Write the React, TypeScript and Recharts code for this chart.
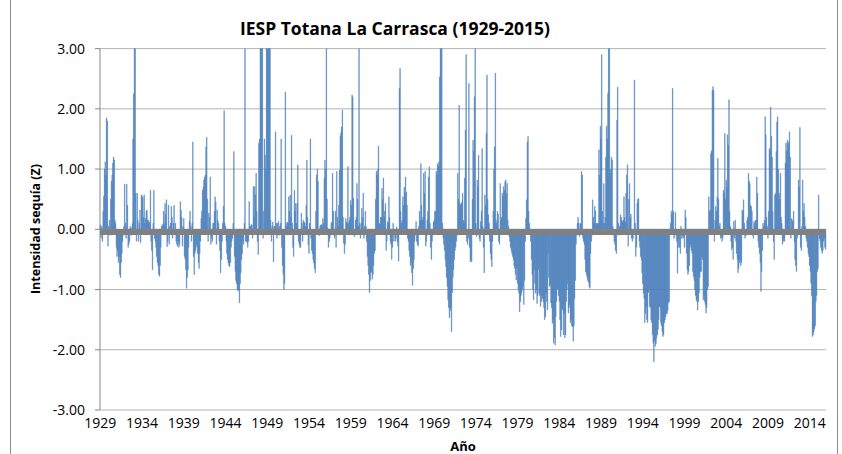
import React from "react";
import { Bar, BarChart, CartesianGrid, ReferenceLine, XAxis, YAxis } from "recharts";

// IESP monthly values (Z), Jan 1929 - Dec 2015, one row per year
const firstYear = 1929;

const z1929_1939 = [
  0.07, -0.15, 0.05, -0.2, 0.3, 0.55, 1.0, 1.12, 0.9, 1.85, 1.8, -0.28,
  0.05, 0.15, -0.1, 0.5, 0.8, 0.9, 1.1, 1.2, 1.15, 0.15, 0.1, -0.3,
  -0.45, -0.35, -0.55, -0.45, -0.75, -0.8, -0.55, -0.4, -0.2, -0.1, 0.05, 0.75,
  0.1, -0.15, 0.75, 0.4, -0.3, -0.25, -0.2, 0.05, 0.02, -0.1, 0.1, 1.5,
  2.25, 3.3, 3.2, 0.6, -0.2, 0.6, 0.15, -0.2, 0.1, 0.32, -0.22, 0.57,
  0.55, 0.53, 0.2, 0.57, 0.1, 0.18, 0.3, 0.32, 0.15, 0.15, 0.1, 0.12,
  0.65, -0.2, -0.35, -0.67, 0.1, 0.65, -0.15, -0.2, -0.3, -0.45, -0.55, -0.6,
  -0.75, -0.78, -0.6, -0.3, 0.05, 0.08, 0.05, 0.3, 0.1, 0.43, 0.25, 0.49,
  -0.29, -0.2, 0.4, -0.25, 0.05, 0.1, 0.38, 0.2, -0.15, 0.1, 0.4, -0.05,
  0.1, -0.2, -0.25, -0.28, -0.2, -0.3, -0.25, 0.46, 0.32, 0.2, -0.28, 0.05,
  0.18, -0.45, -0.5, -0.67, -0.98, -0.8, -0.67, -0.3, 0.13, 0.3, 0.05, -0.2,
];

const z1940_1949 = [
  0.1, 1.45, -0.45, -0.75, -0.4, -0.35, -0.25, -0.3, -0.4, -0.55, -0.65, -0.4,
  -0.2, 0.18, 0.3, 0.65, 0.7, 0.82, 0.87, 0.9, 1.37, 1.53, 0.5, -0.2,
  0.27, 0.2, 0.87, -0.25, -0.15, -0.2, 0.1, 0.1, 0.3, 0.54, 0.45, -0.25,
  0.32, 0.15, 0.1, -0.2, -0.35, -0.72, -0.5, -0.2, 0.1, 0.38, 1.97, 0.1,
  0.05, -0.2, -0.4, -0.5, -0.56, -0.6, -0.62, -0.55, -0.3, -0.2, -0.15, 0.1,
  1.29, -0.45, -0.7, -0.85, -0.9, -1.0, -1.02, -1.0, -1.22, -0.9, -0.72, -0.5,
  -0.4, -0.2, -0.25, 0.1, 3.2, -0.2, -0.2, -0.22, -0.3, -0.2, 0.46, 0.05,
  0.05, 0.08, 0.07, -0.15, 0.71, 0.2, 0.71, 0.57, 0.93, 0.3, -0.2, -0.42,
  1.43, 1.5, 3.1, 3.3, 3.4, 3.2, -0.15, 0.3, 1.5, 1.23, 1.0, 3.2,
  3.3, 3.5, 3.3, 3.6, 3.1, 0.15, -0.2, 0.05, 0.12, -0.54, 0.05, 0.05,
];

const z1950_1959 = [
  1.62, 0.1, -0.15, 0.1, 0.13, -0.1, 0.05, 0.1, 1.5, -0.3, -0.6, -0.75,
  -1.0, -0.9, 2.28, 0.1, 0.05, 0.12, 0.1, 0.54, 0.3, 0.57, 0.2, 1.56,
  0.1, -0.3, -0.45, 0.65, 0.3, 0.43, 0.1, 0.43, 1.07, -0.2, -0.25, -0.3,
  -0.3, 0.27, 0.1, -0.2, 0.15, 0.12, 0.1, 0.05, 0.4, 1.15, 0.2, -0.26,
  -0.4, 0.1, 1.5, -0.15, -0.35, -0.4, -0.5, -0.56, -0.65, -0.72, 0.3, 0.9,
  1.0, 0.8, -0.1, -0.1, 0.05, 0.07, 0.08, 0.05, 0.18, 0.1, 0.85, 1.15,
  1.0, 3.2, 0.5, 0.02, -0.3, -0.2, -0.15, -0.1, 0.1, 0.12, 0.93, 0.3,
  -0.1, -0.15, 0.3, -0.3, 0.96, 0.2, 0.05, 0.4, 0.98, 1.54, 1.6, 1.7,
  1.98, 0.2, -0.23, -0.4, -0.25, 0.18, 0.12, 0.1, 1.04, 0.1, 0.15, 0.2,
  0.48, 0.4, 2.23, 2.2, 0.51, -0.12, -0.1, 0.15, 0.2, 0.76, 0.5, 0.05,
];

const z1960_1969 = [
  3.2, 0.1, -0.15, 0.1, 0.35, 0.2, 0.6, -0.15, 0.05, 0.3, 0.05, -0.2,
  -0.45, -0.6, -0.75, -1.05, -0.85, -0.72, -0.7, -0.83, -0.75, -0.6, -0.4, -0.35,
  0.5, 0.96, 0.9, 1.0, 1.38, 0.1, 0.08, 0.2, 0.2, 0.68, 0.5, 0.85,
  0.2, 0.3, 0.43, -0.35, -0.2, 0.13, 0.1, 0.54, 0.2, -0.2, -0.25, -0.5,
  -0.3, 0.1, -0.2, -0.1, -0.2, -0.15, 0.04, -0.2, -0.28, -0.53, 2.34, 2.67,
  0.3, 0.1, 0.15, 0.54, 0.4, 0.7, 0.6, 0.87, 0.62, 0.4, -0.15, -0.2,
  -0.35, -0.45, -0.6, -0.55, -0.72, -0.93, -0.65, -0.5, -0.2, -0.1, 0.13, -0.2,
  -0.25, -0.28, 0.05, 0.3, 0.15, 1.09, 0.4, 0.15, 0.2, 0.93, 0.6, 0.96,
  -0.28, -0.2, 0.15, 0.3, 0.87, 1.04, 0.1, -0.3, -0.5, -0.2, -0.1, 0.12,
  0.15, 0.3, 0.3, 0.96, 0.9, 1.09, 1.05, 1.12, 2.53, 3.1, 3.3, 3.4,
];

const z1970_1979 = [
  0.1, -0.15, -0.25, -0.35, -0.5, -0.62, -0.8, -0.95, -1.17, -1.3, -1.47, -1.35,
  -1.3, -1.7, -1.05, -0.8, -0.67, -0.5, -0.35, -0.3, -0.2, -0.1, 0.93, 0.5,
  2.06, 0.43, 0.4, 0.43, 0.45, 0.6, 0.15, 0.1, 0.85, 1.65, 2.9, -0.2,
  -0.25, -0.15, 2.42, -0.3, -0.54, -0.5, -0.54, 0.5, 1.48, 1.3, 2.2, 3.2,
  0.1, -0.12, 0.82, 0.7, 1.23, -0.15, -0.2, 0.13, 0.3, 1.34, 0.05, -0.3,
  -0.72, 0.57, 0.4, 1.59, 2.56, 0.5, 0.24, 0.1, -0.2, -0.4, -0.5, -0.62,
  -0.2, 0.3, 1.0, 1.37, 2.59, 0.15, 0.1, 0.3, 0.25, -0.2, -0.25, 0.76,
  0.15, 0.2, 0.6, 0.55, 0.71, 0.65, 0.79, 0.82, 0.6, 0.76, 0.15, 0.05,
  -0.12, -0.2, -0.3, -0.35, -0.4, -0.45, -0.5, -0.6, -0.65, -0.75, -0.84, -0.65,
  -0.9, -1.0, -1.06, -1.37, -1.2, -1.1, -1.05, -1.0, -0.95, -1.25, -0.85, -0.2,
];

const z1980_1989 = [
  0.18, 0.49, 1.45, 1.54, 0.3, 0.1, -0.1, -0.2, -0.5, -0.75, -1.0, -1.17,
  -0.67, -0.9, -1.06, -1.0, -1.23, -1.1, -0.67, -1.06, -1.1, -1.28, -1.2, -1.1,
  -1.15, -1.2, -1.3, -1.5, -1.45, -1.06, -1.2, -1.34, -0.4, -0.8, -0.95, -0.92,
  -1.22, -1.3, -1.56, -1.5, -1.89, -1.8, -1.92, -1.45, -1.2, -0.98, -1.0, -1.1,
  -1.2, -1.5, -1.78, -1.67, -1.3, -1.34, -1.75, -1.4, -1.8, -1.75, -1.2, -1.0,
  -0.9, -1.39, -1.3, -1.25, -1.55, -1.5, -1.6, -1.62, -1.86, -1.6, -1.15, -0.85,
  -0.25, -0.1, 0.1, 0.2, 0.1, -0.12, 0.1, 0.08, 0.96, 0.9, -0.15, -0.2,
  -0.25, -0.5, -0.7, -0.75, -0.8, -0.85, -0.88, -0.95, -0.98, -0.4, -0.2, -0.1,
  0.49, 0.2, 0.1, 0.38, 0.3, 0.1, 0.08, 0.1, 0.1, 1.32, 0.9, 1.71,
  1.5, 2.9, 0.3, 0.1, 0.76, 0.1, 0.2, 1.2, 1.71, 1.5, 2.26, 3.2,
];

const z1990_1999 = [
  3.1, 0.93, 1.0, 1.2, 1.15, 0.05, -0.1, -0.2, -0.25, -0.35, -0.4, 1.81,
  2.36, 0.1, -0.1, 0.05, 0.24, 0.2, 0.15, 0.12, 0.15, 0.54, 0.2, 0.12,
  0.6, 0.9, 1.07, -0.28, 0.5, 0.76, 0.2, 0.25, -0.15, -0.2, -0.15, -0.05,
  2.48, 0.1, -0.45, -0.3, 0.43, 0.5, 0.51, -0.2, -0.3, -0.45, -0.5, -0.72,
  -0.9, -1.06, -1.15, -1.55, -1.4, -1.28, -1.5, -1.55, -1.05, -1.0, -1.28, -1.3,
  -1.5, -1.55, -1.75, -1.89, -2.2, -1.85, -1.94, -1.9, -1.8, -1.75, -1.66, -1.5,
  -1.28, -1.3, -1.55, -1.6, -1.7, -1.78, -1.75, -1.55, -1.5, -1.45, -1.4, -1.4,
  -1.35, -1.22, -1.2, -0.1, 0.1, 0.3, 0.25, 2.34, 0.3, -0.15, -0.1, 0.28,
  -0.1, -0.2, -0.73, -0.3, -0.15, -0.3, -0.4, 0.05, -0.15, -0.1, -0.15, -0.12,
  -0.3, 0.32, 0.2, -0.4, -0.67, -0.75, -0.7, -0.6, -0.3, -0.25, -0.35, -0.4,
];

const z2000_2009 = [
  -0.7, -0.78, -0.85, -1.0, -1.1, -1.17, -1.2, -1.34, -1.2, -1.05, -0.8, -0.7,
  -0.7, -0.45, -0.5, -1.17, -1.1, -1.2, -1.25, -1.39, -1.3, -1.0, -0.95, 0.54,
  0.3, 0.32, 1.26, 1.3, 2.31, 2.37, 2.3, -0.2, 0.15, 0.38, 0.3, 0.54,
  1.18, 0.5, 0.05, 0.1, -0.15, -0.12, -0.2, -0.15, 0.65, 0.6, 1.59, 0.5,
  0.82, 0.7, 1.57, 1.4, 2.15, 0.3, 0.05, -0.2, -0.34, -0.3, -0.5, 0.13,
  -0.15, 0.15, -0.2, -0.4, -0.5, -0.72, -0.65, -0.55, -0.5, -0.6, -0.55, 0.32,
  0.3, 0.49, 0.1, -0.15, -0.1, -0.1, 0.15, 0.2, 0.93, 0.8, 0.76, 0.4,
  0.38, 0.3, -0.1, -0.15, 0.13, 0.1, 0.15, 0.15, 0.87, 0.6, -0.2, -0.3,
  -0.4, -0.55, -1.03, -0.7, -0.35, 0.1, 0.05, 0.15, 1.87, 1.57, 0.2, 0.05,
  -0.15, 0.3, 1.34, 1.3, 2.03, 1.54, 1.2, 0.3, -0.2, -0.5, 0.57, 0.6,
];

const z2010_2015 = [
  1.29, 1.78, 1.87, 1.0, 0.6, 0.5, 0.93, 0.2, 0.1, -0.25, -0.2, -0.15,
  -0.2, 1.1, 1.43, 1.3, 1.48, 1.4, 1.45, 1.62, 1.2, -0.15, 0.18, 0.15,
  0.12, 0.3, -0.2, -0.5, -0.6, -0.7, -0.15, -0.1, 0.82, 0.7, 1.69, -0.3,
  -0.35, 0.05, 0.82, 0.3, 0.43, 0.2, 0.05, -0.15, -0.2, -0.3, -0.4, -0.45,
  -0.6, -0.7, -0.9, -1.1, -1.78, -1.75, -1.7, -1.65, -1.6, -1.2, -1.1, -0.7,
  -0.65, 0.57, -0.15, -0.2, -0.3, -0.35, -0.4, -0.35, -0.2, -0.15, -0.3, -0.33,
];

const yTicks = [-3, -2, -1, 0, 1, 2, 3];

const allValues = [
  ...z1929_1939, ...z1940_1949, ...z1950_1959, ...z1960_1969, ...z1970_1979,
  ...z1980_1989, ...z1990_1999, ...z2000_2009, ...z2010_2015,
];

const data = allValues.map((z, i) => ({
  mes: `${firstYear + Math.floor(i / 12)}-${(i % 12) + 1}`,
  z,
}));

const tickStyle = { fontSize: 14, fill: "#000", fontFamily: '"Open Sans", sans-serif' };

// thick grey horizontal axis, drawn just under the zero level like the original
const ZeroAxis = (p: any) => (
  <line x1={p.x1} x2={p.x2} y1={p.y1 + 2.8} y2={p.y2 + 2.8} stroke="#808080" strokeWidth={5.7} />
);

export default function App() {
  return (
    <div
      style={{
        position: "fixed",
        left: 0,
        top: 0,
        width: 842,
        height: 454,
        background: "#fff",
        overflow: "hidden",
        fontFamily: '"Open Sans", sans-serif',
      }}
    >
      <div
        style={{
          position: "absolute",
          left: 10,
          top: -2,
          width: 828,
          height: 460,
          border: "1px solid #8c8c8c",
          boxSizing: "border-box",
        }}
      />
      <div
        style={{
          position: "absolute",
          left: 195,
          top: 16,
          width: 400,
          textAlign: "center",
          fontWeight: 700,
          fontSize: 17.5,
          lineHeight: "24px",
          whiteSpace: "nowrap",
        }}
      >
        IESP Totana La Carrasca (1929-2015)
      </div>
      <div
        style={{
          position: "absolute",
          left: 35,
          top: 229,
          transform: "translate(-50%, -50%) rotate(-90deg)",
          fontWeight: 700,
          fontSize: 12.5,
          whiteSpace: "nowrap",
        }}
      >
        Intensidad sequía (Z)
      </div>
      <div
        style={{
          position: "absolute",
          left: 463,
          top: 437,
          transform: "translateX(-50%)",
          fontWeight: 700,
          fontSize: 13,
          lineHeight: "18px",
        }}
      >
        Año
      </div>
      <div style={{ position: "absolute", left: 0, top: 0 }}>
        <BarChart
          width={842}
          height={454}
          data={data}
          margin={{ top: 48.6, right: 16, bottom: 14, left: 40 }}
          barCategoryGap="0%"
          barGap={0}
        >
          <CartesianGrid horizontal vertical={false} stroke="#b3b3b3" />
          <XAxis
            dataKey="mes"
            interval={59}
            height={30}
            axisLine={false}
            tickLine={false}
            tickSize={6}
            tickMargin={2}
            tick={tickStyle}
            tickFormatter={(v: string) => v.slice(0, 4)}
          />
          <YAxis
            width={60}
            domain={[-3, 3]}
            ticks={yTicks}
            interval={0}
            allowDataOverflow
            axisLine={{ stroke: "#868686" }}
            tickLine={{ stroke: "#868686" }}
            tickSize={5}
            tickMargin={10}
            tick={tickStyle}
            tickFormatter={(v: number) => v.toFixed(2)}
          />
          <Bar
            dataKey="z"
            fill="#4f81bd"
            stroke="#4f81bd"
            strokeWidth={0.35}
            isAnimationActive={false}
          />
          <ReferenceLine y={0} shape={ZeroAxis} />
        </BarChart>
      </div>
    </div>
  );
}
